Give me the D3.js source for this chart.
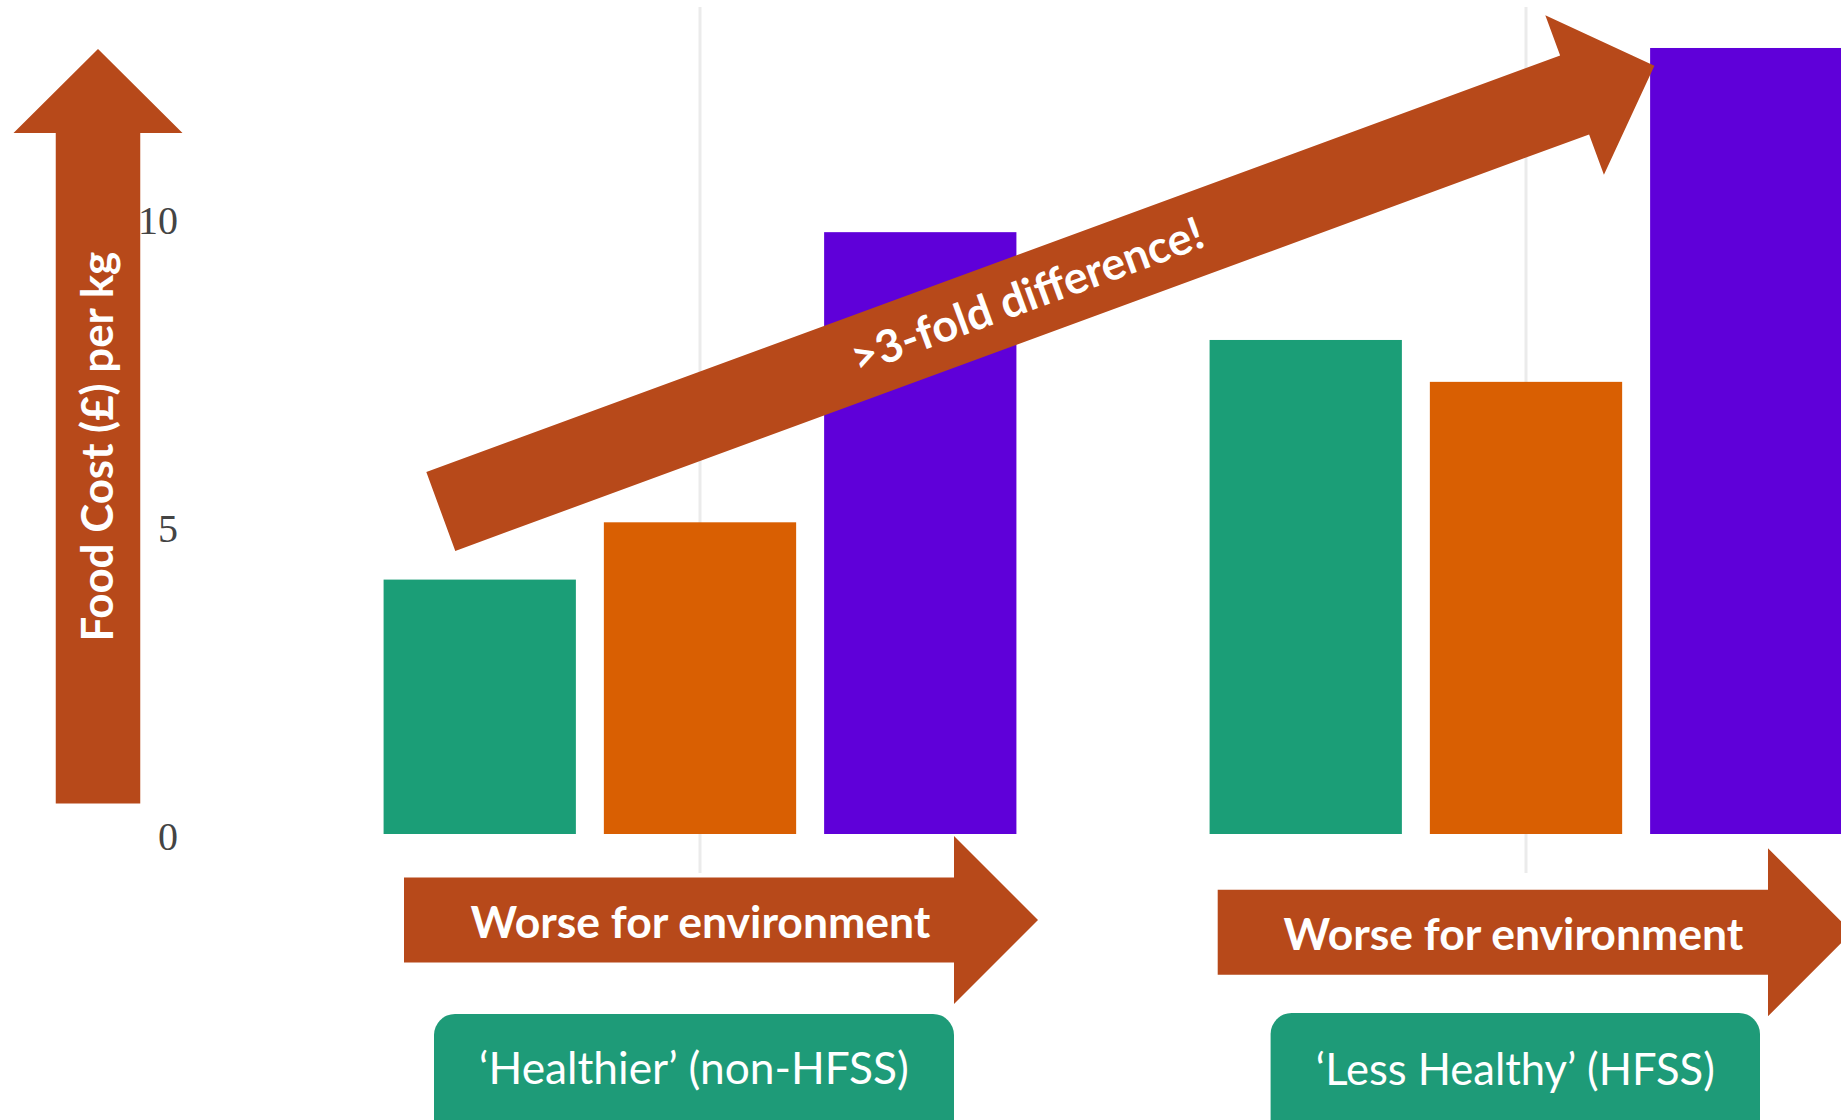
<!DOCTYPE html>
<html><head><meta charset="utf-8">
<script src="https://cdn.jsdelivr.net/npm/d3@7"></script>
<style>html,body{margin:0;padding:0;background:#fff;overflow:hidden}</style>
</head><body>
<svg id="chart" width="1841" height="1120"></svg>
<script>
// ---- data ----
const groups = ["\u2018Healthier\u2019 (non-HFSS)", "\u2018Less Healthy\u2019 (HFSS)"];
const series = ["Lower impact", "Medium impact", "Higher impact"];
const healthierValues = [4.13, 5.06, 9.77];
const lessHealthyValues = [8.02, 7.34, 12.76];
const yTicks = [0, 5, 10];
const seriesColors = ["#1b9e77", "#d95f02", "#5f00d9"];
const yAxisTitle = "Food Cost (\u00a3) per kg";
const envLabel = "Worse for environment";
const diffLabel = ">3-fold difference!";

const valuesByGroup = [healthierValues, lessHealthyValues];
const rows = [];
groups.forEach((g, gi) => series.forEach((s, si) => rows.push({group: g, series: s, value: valuesByGroup[gi][si]})));

// ---- layout ----
const W = 1841, H = 1120;
const svg = d3.select("#chart");
const ARROW = "#b7491a";
const BOXGREEN = "#1e9b78";
const plotTop = 7, plotBottom = 873;

const y = d3.scaleLinear().domain([0, 10]).range([834, 218]);
const x0 = d3.scaleBand().domain(groups).range([287, 1939]).paddingInner(0.2).paddingOuter(0.1);
const x1 = d3.scaleBand().domain(series).range([0, x0.bandwidth()]).paddingInner(0.127).paddingOuter(0.0635);
const color = d3.scaleOrdinal().domain(series).range(seriesColors);

// gridlines at group centres
svg.append("g").selectAll("line").data(groups).join("line")
  .attr("x1", d => x0(d) + x0.bandwidth() / 2).attr("x2", d => x0(d) + x0.bandwidth() / 2)
  .attr("y1", plotTop).attr("y2", plotBottom)
  .attr("stroke", "#ebebeb").attr("stroke-width", 3);

// bars
svg.append("g").selectAll("rect").data(rows).join("rect")
  .attr("x", d => x0(d.group) + x1(d.series))
  .attr("width", x1.bandwidth())
  .attr("y", d => y(d.value))
  .attr("height", d => y(0) - y(d.value))
  .attr("fill", d => color(d.series));

// y axis tick labels
const yAxis = svg.append("g").attr("transform", "translate(186,0)")
  .call(d3.axisLeft(y).tickValues(yTicks).tickSize(0).tickPadding(8).tickFormat(d3.format("d")));
yAxis.select(".domain").remove();
yAxis.selectAll("text").attr("font-family", "'Liberation Serif', 'DejaVu Serif', serif")
  .attr("font-size", 40).attr("fill", "#444").attr("dy", "0.38em");

// arrow helper
function arrowPoints(len, sw, hw, hl) {
  return [[0, -sw/2], [len - hl, -sw/2], [len - hl, -hw/2], [len, 0], [len - hl, hw/2], [len - hl, sw/2], [0, sw/2]];
}
function drawArrow(tail, tip, sw, hw, hl) {
  const dx = tip[0] - tail[0], dy = tip[1] - tail[1];
  const len = Math.hypot(dx, dy), ang = Math.atan2(dy, dx) * 180 / Math.PI;
  svg.append("polygon")
    .attr("points", arrowPoints(len, sw, hw, hl).map(p => p.join(",")).join(" "))
    .attr("transform", `translate(${tail[0]},${tail[1]}) rotate(${ang})`)
    .attr("fill", ARROW);
  return {len, ang};
}
function fit(sel, target) {
  const w = sel.node().getComputedTextLength();
  const fs = parseFloat(sel.attr("font-size"));
  sel.attr("font-size", fs * target / w);
}
const SANS = "Lato, 'Open Sans', 'Noto Sans', sans-serif";

// vertical axis arrow
drawArrow([98, 803.4], [98, 48.9], 84.5, 169, 84);
const yt = svg.append("text").text(yAxisTitle)
  .attr("transform", "translate(98,446.7) rotate(-90)")
  .attr("y", 15).attr("text-anchor", "middle")
  .attr("font-family", SANS).attr("font-weight", 700).attr("font-size", 40).attr("fill", "#fff");
fit(yt, 390);

// diagonal arrow
const diag = drawArrow([440.8, 511.5], [1654.4, 65.7], 84, 170, 85);
const dt = svg.append("text").text(diffLabel)
  .attr("transform", `translate(440.8,511.5) rotate(${diag.ang})`)
  .attr("x", 625).attr("y", 15).attr("text-anchor", "middle")
  .attr("font-family", SANS).attr("font-weight", 700).attr("font-size", 44).attr("fill", "#fff");
fit(dt, 372);

// bottom arrows
const bottomArrows = [
  {tail: [404, 920], tip: [1038, 920], tx: 700.5, ty: 938},
  {tail: [1217.7, 932.3], tip: [1852, 932.3], tx: 1513.5, ty: 950}
];
bottomArrows.forEach(a => {
  drawArrow(a.tail, a.tip, 85, 168, 84);
  const t = svg.append("text").text(envLabel).attr("x", a.tx).attr("y", a.ty)
    .attr("text-anchor", "middle").attr("font-family", SANS).attr("font-weight", 700)
    .attr("font-size", 44).attr("fill", "#fff");
  fit(t, 460);
});

// group label boxes
const boxes = [
  {x: 434, w: 520, y: 1014, tx: 694, ty: 1084, tw: 430, label: groups[0]},
  {x: 1270.6, w: 489.4, y: 1013, tx: 1515.3, ty: 1085, tw: 399, label: groups[1]}
];
boxes.forEach(b => {
  svg.append("rect").attr("x", b.x).attr("y", b.y).attr("width", b.w).attr("height", 130)
    .attr("rx", 21).attr("fill", BOXGREEN);
  const t = svg.append("text").text(b.label).attr("x", b.tx).attr("y", b.ty)
    .attr("text-anchor", "middle").attr("font-family", SANS).attr("font-weight", 400)
    .attr("font-size", 44).attr("fill", "#fff");
  fit(t, b.tw);
});
</script>
</body></html>
